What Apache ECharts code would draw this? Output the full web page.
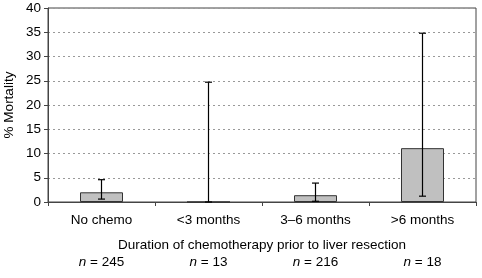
<!DOCTYPE html>
<html>
<head>
<meta charset="utf-8">
<script src="https://cdn.jsdelivr.net/npm/echarts@6/dist/echarts.min.js"></script>
<style>
  html, body { margin: 0; padding: 0; background: #fff; }
  #chart { width: 482px; height: 278px; }
</style>
</head>
<body>
<div id="chart"></div>
<script>
// categories and values
var categories = ['No chemo', '<3 months', '3\u20136 months', '>6 months'];
var groupN = ['245', '13', '216', '18'];
var mortality = [2.0, 0, 1.4, 11.1];
var ciLow = [0.6, 0, 0.15, 1.2];
var ciHigh = [4.6, 24.7, 3.9, 34.8];

var font = 'Liberation Sans, Arial, sans-serif';
var fs = 13.5;
var chart = echarts.init(document.getElementById('chart'));

var errData = categories.map(function (c, i) {
  return [i, ciLow[i], ciHigh[i]];
});

var option = {
  animation: false,
  grid: {
    left: 48, right: 6, top: 8, bottom: 76,
    outerBoundsMode: 'none',
    containLabel: false,
    show: true, borderColor: '#444', borderWidth: 1
  },
  xAxis: {
    type: 'category',
    data: categories,
    name: 'Duration of chemotherapy prior to liver resection',
    nameLocation: 'middle',
    nameGap: 36,
    nameMoveOverlap: false,
    nameTextStyle: { fontFamily: font, fontSize: fs, color: '#000' },
    axisLine: { lineStyle: { color: '#444', width: 1 } },
    axisTick: { show: true, alignWithLabel: false, length: 4, lineStyle: { color: '#444' } },
    axisLabel: {
      interval: 0,
      margin: 8,
      formatter: function (val, idx) {
        return '{c|' + val + '}\n{e|}\n{i|n}{c| = ' + groupN[idx] + '}';
      },
      rich: {
        c: { fontFamily: font, fontSize: fs, color: '#000', lineHeight: 21 },
        i: { fontFamily: font, fontSize: fs, color: '#000', fontStyle: 'italic', lineHeight: 21 },
        e: { fontSize: fs, lineHeight: 21 }
      }
    },
    splitLine: { show: false }
  },
  yAxis: {
    type: 'value',
    min: 0, max: 40, interval: 5,
    name: '% Mortality',
    nameLocation: 'middle',
    nameGap: 32,
    nameMoveOverlap: false,
    nameTextStyle: { fontFamily: font, fontSize: fs, color: '#000' },
    axisLine: { show: true, lineStyle: { color: '#444', width: 1 } },
    axisTick: { show: true, length: 4, lineStyle: { color: '#444' } },
    axisLabel: { fontFamily: font, fontSize: fs, color: '#000', margin: 7 },
    splitLine: { lineStyle: { color: '#999', type: [2, 3] } }
  },
  series: [
    {
      type: 'bar',
      data: mortality,
      barWidth: 43,
      itemStyle: { color: '#c0c0c0', borderColor: '#333', borderWidth: 1 }
    },
    {
      type: 'custom',
      data: errData,
      z: 10,
      renderItem: function (params, api) {
        var lo = api.coord([api.value(0), api.value(1)]);
        var hi = api.coord([api.value(0), api.value(2)]);
        var half = 3.5;
        var st = { stroke: '#000', lineWidth: 1.2 };
        return {
          type: 'group',
          children: [
            { type: 'line', shape: { x1: lo[0], y1: lo[1], x2: hi[0], y2: hi[1] }, style: st },
            { type: 'line', shape: { x1: hi[0] - half, y1: hi[1], x2: hi[0] + half, y2: hi[1] }, style: st },
            { type: 'line', shape: { x1: lo[0] - half, y1: lo[1], x2: lo[0] + half, y2: lo[1] }, style: st }
          ]
        };
      }
    }
  ]
};
chart.setOption(option);
</script>
</body>
</html>
